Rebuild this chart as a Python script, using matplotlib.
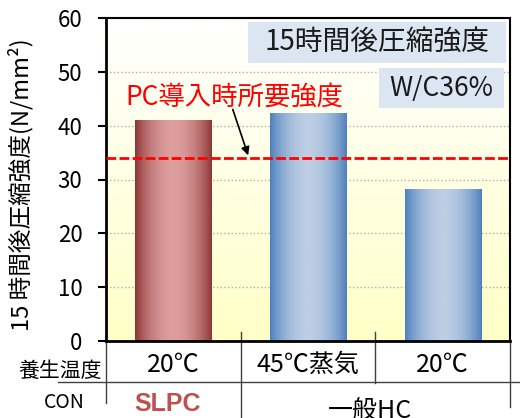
import numpy as np
import matplotlib
matplotlib.use("Agg")
import matplotlib.pyplot as plt
from matplotlib.colors import LinearSegmentedColormap
from matplotlib.patches import Rectangle
from matplotlib.transforms import blended_transform_factory

plt.rcParams['font.family'] = ['Noto Sans CJK JP', 'DejaVu Sans']

# data
categories = ['20℃', '45℃蒸気', '20℃']
strength = [40.9, 42.2, 28.2]
groups = ['SLPC', '一般HC']
group_span = [(0, 0), (1, 2)]
required = 34
yticks = [0, 10, 20, 30, 40, 50, 60]

bar_edge = ['#8c3232', '#4a7ebb', '#4a7ebb']
bar_mid = ['#dd9e9e', '#bccde4', '#bccde4']

fig = plt.figure(figsize=(5.2, 4.18), dpi=100)
ax = fig.add_axes([106/520, 1-341/418, 404/520, 323/418])

# pale yellow -> white background
bg = LinearSegmentedColormap.from_list('bg', ['#ffffc8', '#ffffff'])
ax.imshow(np.linspace(0, 1, 256).reshape(-1, 1), cmap=bg, origin='lower',
          extent=[0, 1, 0, 1], transform=ax.transAxes, aspect='auto', zorder=0)

# bars with a horizontal "cylinder" gradient
x = np.arange(len(categories))
bars = ax.bar(x, strength, width=0.565, color='none', zorder=2)
t = np.linspace(0, 1, 200)
prof = np.sin(np.pi*t)**0.8
for b, c0, c1 in zip(bars, bar_edge, bar_mid):
    cm = LinearSegmentedColormap.from_list('', [c0, c1])
    x0 = b.get_x()
    ax.imshow(prof.reshape(1, -1), cmap=cm, vmin=0, vmax=1,
              extent=[x0, x0+b.get_width(), b.get_y(), b.get_y()+b.get_height()],
              aspect='auto', zorder=2)

ax.set_xlim(-0.5, len(categories)-0.5)
ax.set_ylim(yticks[0], yticks[-1])

ax.set_axisbelow(True)
ax.yaxis.grid(True, linestyle=':', color='#b0b0b0', lw=1)

# required strength line
ax.axhline(required, color='#ff0000', lw=2, dashes=(3.5, 1.2), zorder=3)
ax.text(0.317, 0.755, 'PC導入時所要強度', transform=ax.transAxes, color='#ff0000',
        fontsize=19, ha='center', va='center', zorder=5)
ax.annotate('', xy=(0.562, required), xytext=(0.435, 43.5),
            arrowprops=dict(arrowstyle='-|>', color='black', lw=1.2, mutation_scale=12),
            zorder=5)

# label boxes
ax.add_patch(Rectangle((0.351, 0.861), 0.639, 0.127, transform=ax.transAxes,
                       facecolor='#dce6f2', edgecolor='none', zorder=4))
ax.text(0.671, 0.926, '15時間後圧縮強度', transform=ax.transAxes, fontsize=20,
        ha='center', va='center', color='#1a1a1a', zorder=5)
ax.add_patch(Rectangle((0.676, 0.721), 0.309, 0.124, transform=ax.transAxes,
                       facecolor='#dce6f2', edgecolor='none', zorder=4))
ax.text(0.830, 0.783, 'W/C36%', transform=ax.transAxes, fontsize=19,
        ha='center', va='center', color='#1a1a1a', zorder=5)

# spines and ticks
for s in ['left', 'bottom']:
    ax.spines[s].set_linewidth(2)
for s in ['top', 'right']:
    ax.spines[s].set_linewidth(1.5)
ax.set_yticks(yticks)
ax.tick_params(axis='y', direction='out', length=6, width=1.5, pad=11, labelsize=16)
ax.set_xticks(x, categories)
ax.tick_params(axis='x', length=0, pad=8, labelsize=18)

ax.set_ylabel('15 時間後圧縮強度(N/mm²)', fontsize=17)
ax.yaxis.set_label_coords(-0.18, 0.483)

# table under the chart
tr = blended_transform_factory(ax.transData, ax.transAxes)
kw = dict(transform=tr, color='#404040', lw=1, clip_on=False)
ax.plot([-0.5, -0.5], [0, -0.192], **kw)
ax.plot([0.5, 0.5], [0.028, -0.24], **kw)
ax.plot([1.5, 1.5], [0.028, -0.13], **kw)
ax.plot([2.5, 2.5], [0, -0.204], **kw)
ax.plot([-0.856, 2.6], [-0.127, -0.127], **kw)

ax.text(-0.84, -0.093, '養生温度', transform=tr, fontsize=15, ha='center', va='center')
ax.text(-0.81, -0.189, 'CON', transform=tr, fontsize=14, ha='center', va='center')
for g, (a, b) in zip(groups, group_span):
    if g == 'SLPC':
        ax.text((a+b)/2 - 0.04, -0.195, g, transform=tr, fontsize=18, fontweight='bold',
                family='Liberation Sans', color='#c0504d', ha='center', va='center')
    else:
        ax.text((a+b)/2 - 0.04, -0.22, g, transform=tr, fontsize=18,
                ha='center', va='center')

fig.savefig('out.png', dpi=100)
